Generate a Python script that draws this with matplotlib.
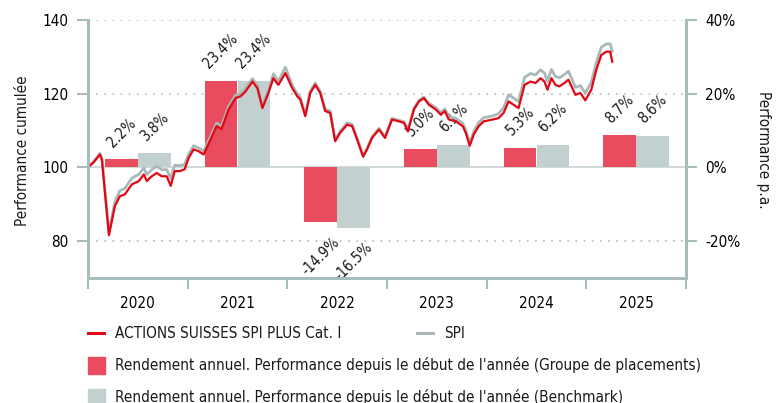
import matplotlib
matplotlib.use('Agg')
import matplotlib.pyplot as plt
from matplotlib.lines import Line2D
from matplotlib.patches import Rectangle

# dates en années décimales
dates = [2020.00, 2020.06, 2020.12, 2020.14, 2020.21, 2020.27, 2020.32, 2020.37, 2020.44, 2020.51,
         2020.56, 2020.59, 2020.64, 2020.69, 2020.74, 2020.79, 2020.83, 2020.87, 2020.92, 2020.97,
         2021.01, 2021.06, 2021.11, 2021.16, 2021.23, 2021.29, 2021.34, 2021.41, 2021.48, 2021.53,
         2021.58, 2021.65, 2021.70, 2021.75, 2021.81, 2021.86, 2021.91, 2021.98, 2022.05, 2022.10,
         2022.13, 2022.18, 2022.23, 2022.28, 2022.33, 2022.38, 2022.43, 2022.48, 2022.53, 2022.60,
         2022.65, 2022.70, 2022.76, 2022.80, 2022.85, 2022.92, 2022.98, 2023.05, 2023.12, 2023.17,
         2023.21, 2023.27, 2023.32, 2023.37, 2023.42, 2023.49, 2023.54, 2023.58, 2023.62, 2023.69,
         2023.76, 2023.79, 2023.83, 2023.87, 2023.92, 2023.97, 2024.06, 2024.12, 2024.17, 2024.22,
         2024.27, 2024.32, 2024.38, 2024.44, 2024.49, 2024.54, 2024.58, 2024.61, 2024.65, 2024.69,
         2024.73, 2024.78, 2024.82, 2024.86, 2024.89, 2024.94, 2024.99, 2025.05, 2025.10, 2025.15,
         2025.20, 2025.24, 2025.26]

# performance cumulée du groupe de placements
fonds = [100.0, 101.5, 103.5, 102.0, 81.6, 89.5, 92.2, 92.7, 95.4, 96.3,
         98.1, 96.3, 97.6, 98.5, 97.6, 97.6, 95.0, 99.0, 99.0, 99.5,
         102.6, 104.9, 104.4, 103.5, 107.6, 111.2, 110.4, 115.7, 118.8, 119.3,
         120.6, 123.3, 121.5, 116.1, 120.2, 124.2, 122.4, 125.6, 121.5, 119.3,
         118.4, 113.9, 120.2, 122.4, 120.2, 115.3, 114.8, 107.1, 109.4, 111.6,
         111.2, 107.6, 102.9, 104.9, 108.0, 110.3, 108.0, 113.0, 112.5, 112.1,
         109.8, 115.7, 117.9, 118.8, 117.0, 115.7, 114.3, 115.3, 113.0, 112.5,
         111.2, 109.4, 105.9, 108.9, 111.2, 112.5, 113.0, 113.4, 114.8, 117.9,
         117.0, 116.1, 122.4, 123.3, 122.9, 124.2, 123.3, 121.1, 124.2, 122.4,
         122.0, 122.9, 123.8, 121.5, 119.7, 120.2, 118.2, 121.1, 126.5, 130.5,
         131.4, 131.4, 128.7]

# SPI
spi = [100.0, 101.7, 103.8, 102.3, 82.4, 90.7, 93.7, 94.3, 97.1, 98.1,
       99.9, 98.1, 99.4, 100.3, 99.4, 99.4, 97.0, 100.6, 100.5, 100.8,
       103.6, 105.9, 105.3, 104.4, 108.4, 112.0, 111.2, 116.5, 119.6, 120.1,
       121.4, 124.1, 122.2, 116.8, 120.9, 125.4, 123.4, 127.2, 122.3, 119.9,
       119.0, 114.4, 120.7, 122.9, 120.7, 115.8, 115.3, 107.5, 109.8, 112.1,
       111.7, 108.0, 103.2, 105.2, 108.3, 110.6, 108.3, 113.3, 112.8, 112.4,
       110.2, 116.0, 118.2, 119.1, 117.4, 116.2, 114.9, 115.9, 113.8, 113.3,
       112.0, 110.2, 106.6, 109.7, 112.2, 113.5, 114.0, 114.6, 116.2, 119.7,
       118.8, 117.9, 124.4, 125.5, 125.1, 126.5, 125.6, 123.4, 126.6, 124.7,
       124.3, 125.2, 126.1, 123.7, 121.7, 122.2, 120.2, 123.1, 128.5, 132.6,
       133.5, 133.5, 131.5]

annees = [2020, 2021, 2022, 2023, 2024, 2025]
rend_fonds = [2.2, 23.4, -14.9, 5.0, 5.3, 8.7]
rend_bench = [3.8, 23.4, -16.5, 6.1, 6.2, 8.6]

rouge_ligne = '#e30613'
gris_ligne = '#a9b9b9'
rouge_barre = '#e84c5e'
gris_barre = '#c3d0d0'
col_axe = '#a9bcbc'
col_grille = '#b9c7c7'
col_texte = '#1a1a1a'

plt.rcParams['font.family'] = 'DejaVu Sans'
plt.rcParams['font.stretch'] = 'condensed'
plt.rcParams['font.size'] = 11
plt.rcParams['text.color'] = col_texte

W, H = 778, 403
fig = plt.figure(figsize=(W / 100, H / 100), dpi=100)
x0, x1, y0, y1 = 88, 686, 20, 278
ax = fig.add_axes([x0 / W, 1 - y1 / H, (x1 - x0) / W, (y1 - y0) / H])
ax2 = ax.twinx()
ax.set_zorder(2)
ax2.set_zorder(1)
ax.patch.set_visible(False)

# barres (axe de droite)
larg = 0.33
xr = [a + 0.5 - larg / 2 for a in annees]
xg = [a + 0.5 + larg / 2 for a in annees]
ax2.bar(xr, rend_fonds, width=larg, color=rouge_barre, zorder=2)
ax2.bar(xg, rend_bench, width=larg, color=gris_barre, zorder=2)
for xs, vals in ((xr, rend_fonds), (xg, rend_bench)):
    for x, v in zip(xs, vals):
        if v >= 0:
            ax2.text(x, v + 2.6, f'{v:.1f}%', rotation=45, ha='center', va='bottom',
                     fontsize=10.5, zorder=3)
        else:
            ax2.text(x, v - 3.2, f'{v:.1f}%', rotation=45, ha='center', va='top',
                     fontsize=10.5, zorder=3)

ax2.set_ylim(-30, 40)
ax2.set_yticks([-20, 0, 20, 40])
ax2.set_yticklabels(['-20%', '0%', '20%', '40%'])
for g in [-20, 20, 40]:
    ax2.axhline(g, color=col_grille, lw=1.3, ls=(0, (1, 3.5)), zorder=0)
ax2.axhline(0, color='#c8d2d2', lw=1.2, zorder=1)

# courbes (axe de gauche)
ax.plot(dates, spi, color=gris_ligne, lw=2.0, solid_joinstyle='round')
ax.plot(dates, fonds, color=rouge_ligne, lw=1.6, solid_joinstyle='round')
ax.set_ylim(70, 140)
ax.set_yticks([80, 100, 120, 140])
ax.set_xlim(2020, 2026)
ax.set_xticks(range(2020, 2027))
ax.set_xticklabels([])
ax.set_xticks([a + 0.5 for a in annees], minor=True)
ax.set_xticklabels([str(a) for a in annees], minor=True)
ax.tick_params(axis='x', which='major', length=8, width=1.5, color=col_axe)
ax.tick_params(axis='x', which='minor', length=0, pad=13)
ax.tick_params(axis='y', length=8, width=1.5, color=col_axe, pad=6)
ax2.tick_params(axis='y', length=8, width=1.5, color=col_axe, pad=6)

for a in (ax, ax2):
    a.spines['top'].set_visible(False)
    for s in ('left', 'right', 'bottom'):
        a.spines[s].set_color(col_axe)
        a.spines[s].set_linewidth(2)

fig.text(23 / W, 1 - 151 / H, 'Performance cumulée', rotation=90, ha='center', va='center')
fig.text(763 / W, 1 - 150 / H, 'Performance p.a.', rotation=270, ha='center', va='center')

# légende
def fy(y):
    return 1 - y / H

fig.add_artist(Line2D([88 / W, 104 / W], [fy(333), fy(333)], color=rouge_ligne, lw=2.2))
fig.text(115 / W, fy(333), 'ACTIONS SUISSES SPI PLUS Cat. I', va='center', ha='left')
fig.add_artist(Line2D([417 / W, 433 / W], [fy(333), fy(333)], color=gris_ligne, lw=2.2))
fig.text(444 / W, fy(333), 'SPI', va='center', ha='left')
fig.add_artist(Rectangle((88 / W, fy(374)), 17 / W, 17 / H, color=rouge_barre,
                         transform=fig.transFigure))
fig.text(115 / W, fy(365), "Rendement annuel. Performance depuis le début de l'année (Groupe de placements)",
         va='center', ha='left')
fig.add_artist(Rectangle((88 / W, fy(406)), 17 / W, 17 / H, color=gris_barre,
                         transform=fig.transFigure))
fig.text(115 / W, fy(397), "Rendement annuel. Performance depuis le début de l'année (Benchmark)",
         va='center', ha='left')

fig.savefig('out.png', dpi=100)
